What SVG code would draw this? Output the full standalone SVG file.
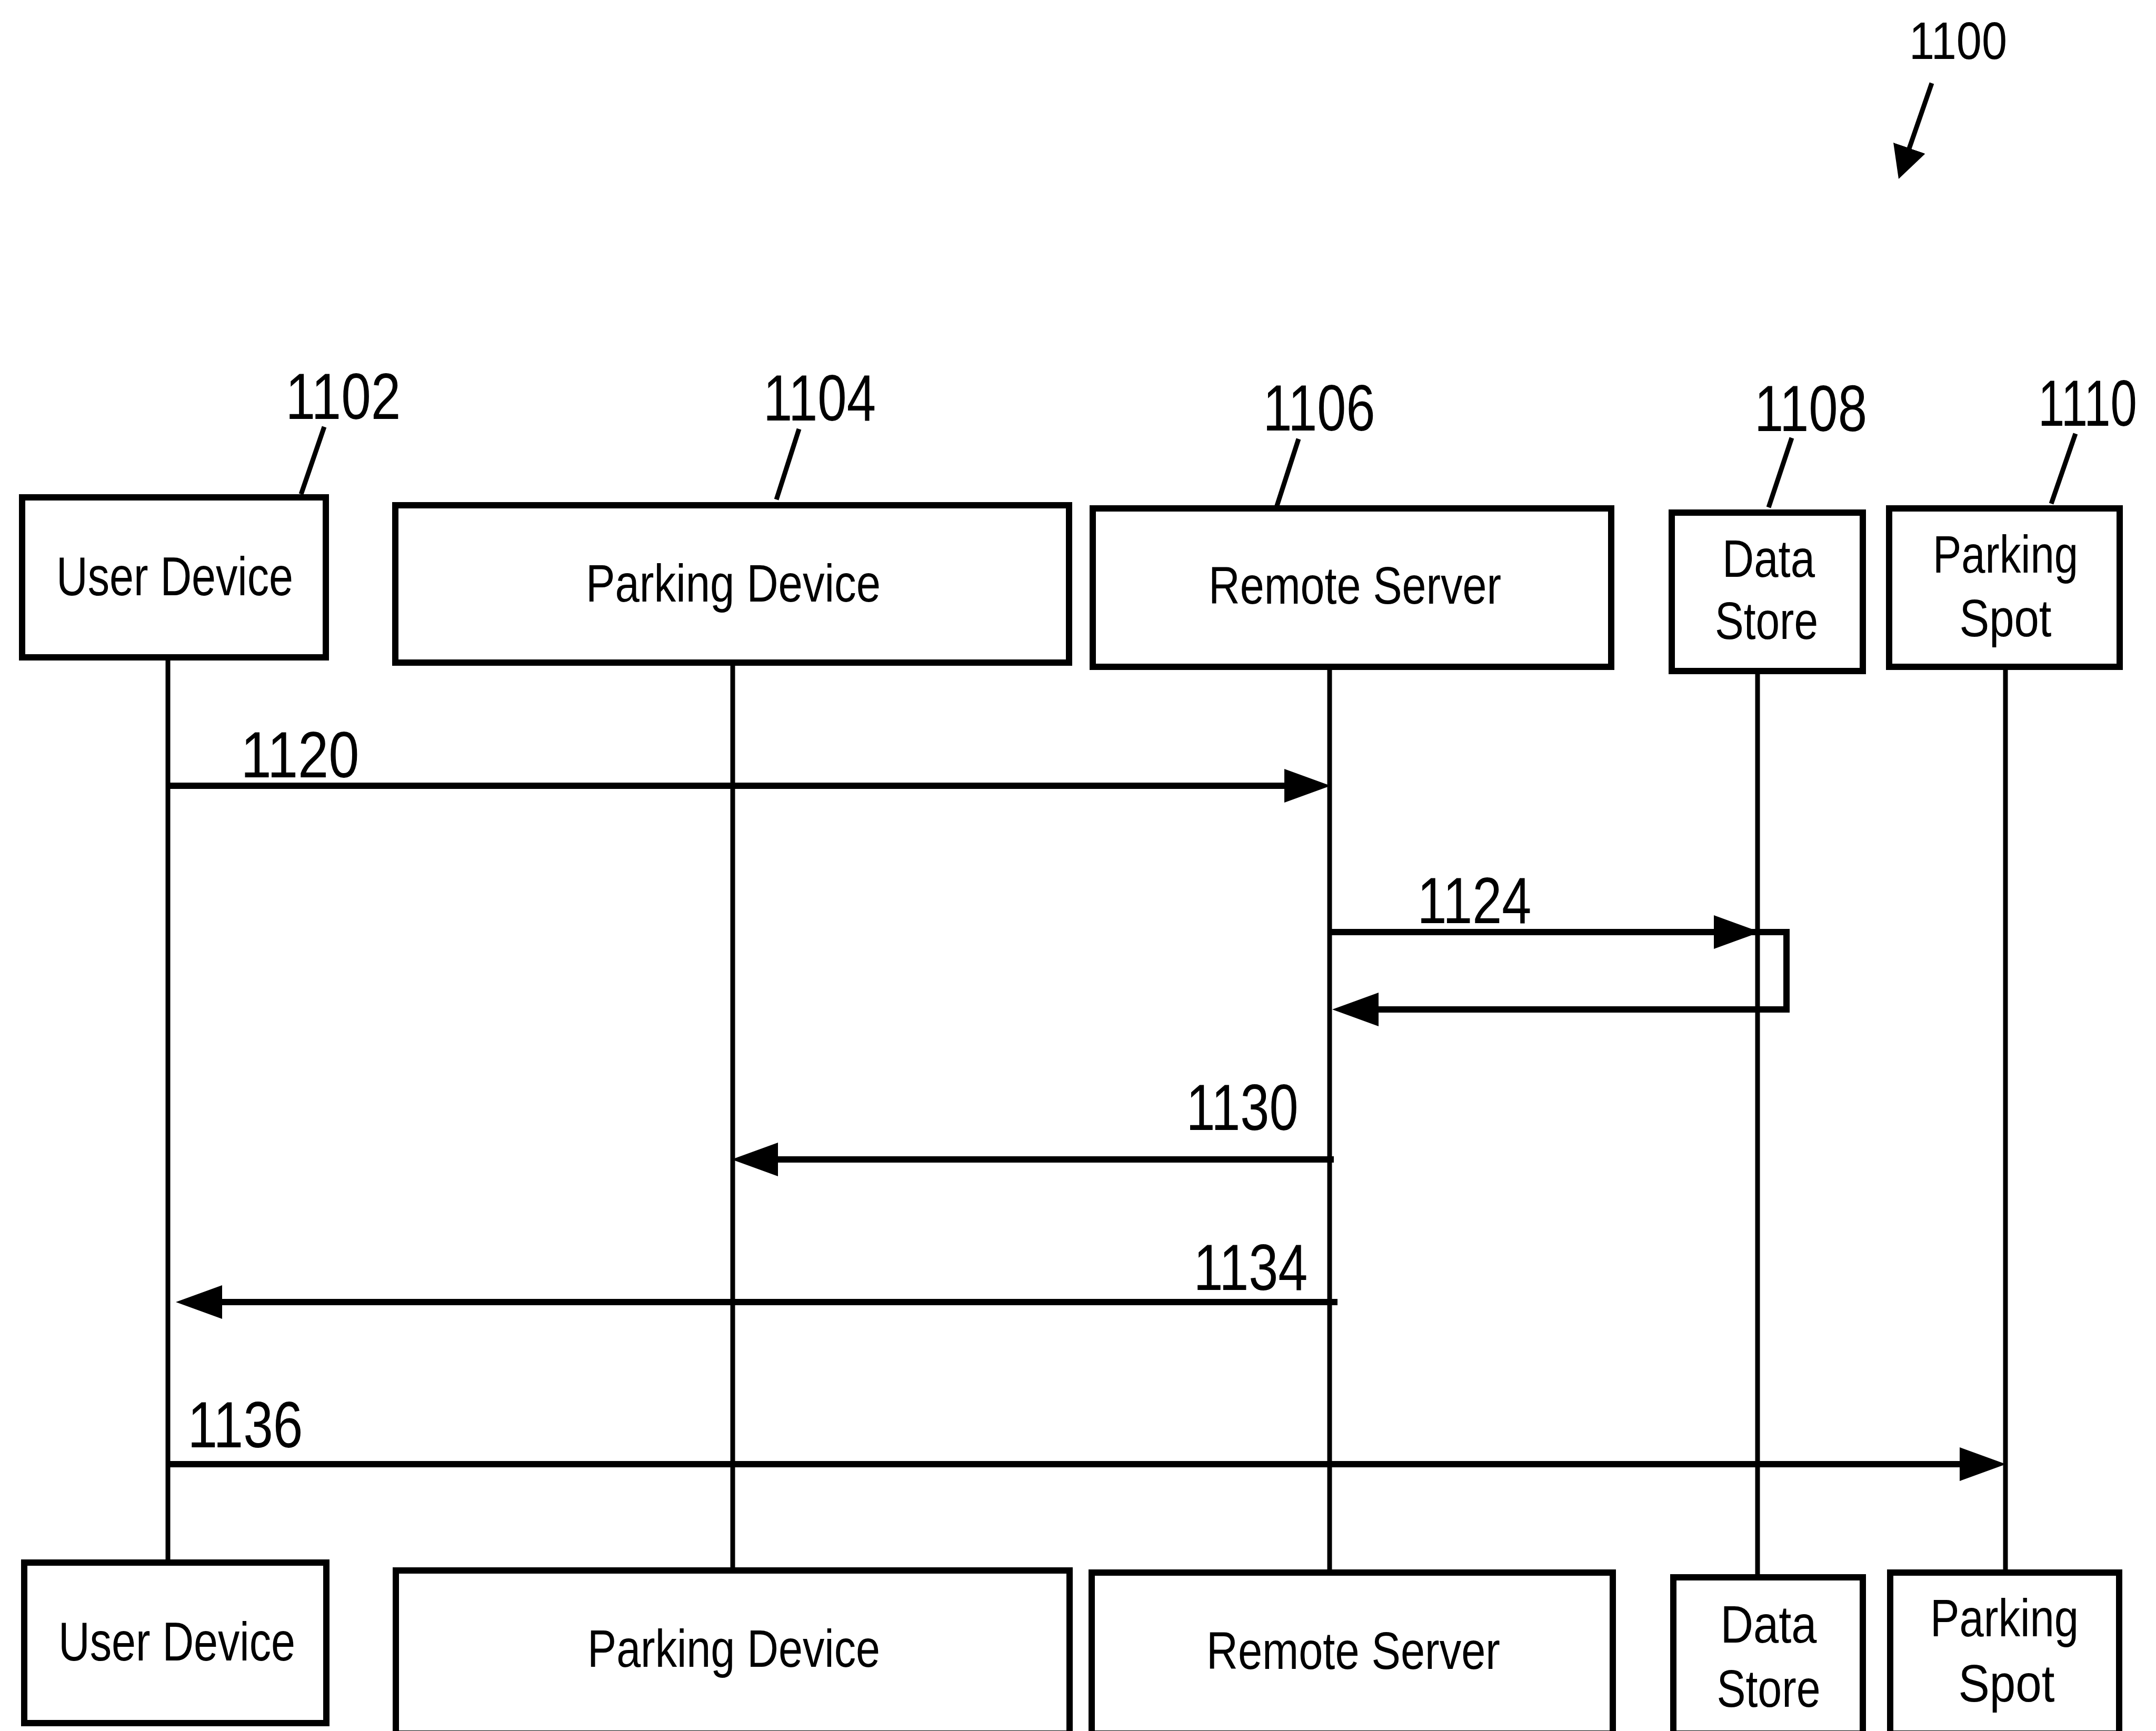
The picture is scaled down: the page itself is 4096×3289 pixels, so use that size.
<svg xmlns="http://www.w3.org/2000/svg" width="4096" height="3289" viewBox="0 0 4096 3289">
<style>
.box{fill:#fff;stroke:#000;stroke-width:12}
.life{stroke:#000;stroke-width:9;fill:none}
.msg{stroke:#000;stroke-width:12;fill:none;stroke-linejoin:miter}
.lead{stroke:#000;stroke-width:9;fill:none}
.lbl{font-family:"Liberation Sans",Arial,sans-serif;font-size:100px;fill:#000;text-anchor:middle}
.num{font-family:"Liberation Sans",Arial,sans-serif;font-size:124px;fill:#000;text-anchor:middle}
</style>
<defs>
<marker id="ah" markerUnits="userSpaceOnUse" markerWidth="88" markerHeight="64" refX="68" refY="32" orient="auto" viewBox="0 0 88 64">
<path d="M0,0 L88,32 L0,64 z" fill="#000"/>
</marker>
<marker id="ahs" markerUnits="userSpaceOnUse" markerWidth="62" markerHeight="64" refX="48" refY="32" orient="auto" viewBox="0 0 62 64">
<path d="M0,0 L62,32 L0,64 z" fill="#000"/>
</marker>
</defs>
<rect width="4096" height="3289" fill="#fff"/>

<g id="fig-ref">
<text class="num" x="3720" y="112" style="font-size:101px" textLength="186" lengthAdjust="spacingAndGlyphs">1100</text>
<line class="lead" x1="3670" y1="158" x2="3611.6" y2="326.8" marker-end="url(#ahs)" stroke-width="10"/>
</g>

<g id="lifelines">
<line class="life" x1="319" y1="1254" x2="319" y2="2964"/>
<line class="life" x1="1392" y1="1264" x2="1392" y2="2979"/>
<line class="life" x1="2526" y1="1272" x2="2526" y2="2983"/>
<line class="life" x1="3339" y1="1280" x2="3339" y2="2992"/>
<line class="life" x1="3810" y1="1272" x2="3810" y2="2983"/>
</g>

<g id="node-user-device">
<rect class="box" x="42" y="945" width="577" height="304"/>
<text class="lbl" x="332" y="1131" textLength="450" lengthAdjust="spacingAndGlyphs" style="font-size:103px">User Device</text>
<line class="lead" x1="616" y1="811" x2="572" y2="939"/>
<text class="num" x="652" y="796" textLength="219" lengthAdjust="spacingAndGlyphs">1102</text>
</g>

<g id="node-parking-device">
<rect class="box" x="751" y="960" width="1280" height="299"/>
<text class="lbl" x="1393" y="1143" textLength="560" lengthAdjust="spacingAndGlyphs">Parking Device</text>
<line class="lead" x1="1518" y1="815" x2="1475" y2="949"/>
<text class="num" x="1557" y="799" textLength="214" lengthAdjust="spacingAndGlyphs">1104</text>
</g>

<g id="node-remote-server">
<rect class="box" x="2076" y="966" width="985" height="301"/>
<text class="lbl" x="2574" y="1147" textLength="556" lengthAdjust="spacingAndGlyphs">Remote Server</text>
<line class="lead" x1="2467" y1="834" x2="2424" y2="967"/>
<text class="num" x="2506" y="818" textLength="213" lengthAdjust="spacingAndGlyphs">1106</text>
</g>

<g id="node-data-store">
<rect class="box" x="3176" y="974" width="363" height="301"/>
<text class="lbl" x="3360" y="1096" textLength="176" lengthAdjust="spacingAndGlyphs">Data</text>
<text class="lbl" x="3356" y="1214" textLength="196" lengthAdjust="spacingAndGlyphs">Store</text>
<line class="lead" x1="3404" y1="832" x2="3360" y2="964"/>
<text class="num" x="3440" y="819" textLength="214" lengthAdjust="spacingAndGlyphs">1108</text>
</g>

<g id="node-parking-spot">
<rect class="box" x="3589" y="966" width="438" height="301"/>
<text class="lbl" x="3810" y="1088" textLength="276" lengthAdjust="spacingAndGlyphs">Parking</text>
<text class="lbl" x="3810" y="1209" textLength="175" lengthAdjust="spacingAndGlyphs">Spot</text>
<line class="lead" x1="3943" y1="824" x2="3897" y2="957"/>
<text class="num" transform="translate(3966,809) scale(0.73,1)" x="0" y="0">1110</text>
</g>

<g id="node-user-device-bottom">
<rect class="box" x="46" y="2969" width="574" height="305"/>
<text class="lbl" x="336" y="3155" textLength="450" lengthAdjust="spacingAndGlyphs" style="font-size:103px">User Device</text>
</g>
<g id="node-parking-device-bottom">
<rect class="box" x="752" y="2984" width="1280" height="310"/>
<text class="lbl" x="1394" y="3167" textLength="556" lengthAdjust="spacingAndGlyphs">Parking Device</text>
</g>
<g id="node-remote-server-bottom">
<rect class="box" x="2074" y="2988" width="990" height="306"/>
<text class="lbl" x="2571" y="3171" textLength="558" lengthAdjust="spacingAndGlyphs">Remote Server</text>
</g>
<g id="node-data-store-bottom">
<rect class="box" x="3179" y="2997" width="360" height="297"/>
<text class="lbl" x="3360" y="3121" textLength="183" lengthAdjust="spacingAndGlyphs">Data</text>
<text class="lbl" x="3360" y="3243" textLength="197" lengthAdjust="spacingAndGlyphs">Store</text>
</g>
<g id="node-parking-spot-bottom">
<rect class="box" x="3591" y="2988" width="435" height="306"/>
<text class="lbl" x="3808" y="3109" textLength="282" lengthAdjust="spacingAndGlyphs">Parking</text>
<text class="lbl" x="3812" y="3233" textLength="183" lengthAdjust="spacingAndGlyphs">Spot</text>
</g>

<g id="connectors">
<line class="msg" x1="319" y1="1493" x2="2508" y2="1493" marker-end="url(#ah)"/>
<line class="msg" x1="2526" y1="1771" x2="3324" y2="1771" marker-end="url(#ah)"/>
<path class="msg" d="M3320,1771 H3394 V1918 H2551" marker-end="url(#ah)"/>
<line class="msg" x1="2534" y1="2203" x2="1410" y2="2203" marker-end="url(#ah)"/>
<line class="msg" x1="2541" y1="2474" x2="354" y2="2474" marker-end="url(#ah)"/>
<line class="msg" x1="317" y1="2782" x2="3791" y2="2782" marker-end="url(#ah)"/>
</g>

<g id="connector-labels">
<text class="num" x="570" y="1477" textLength="225" lengthAdjust="spacingAndGlyphs">1120</text>
<text class="num" x="2801" y="1754" textLength="217" lengthAdjust="spacingAndGlyphs">1124</text>
<text class="num" x="2360" y="2147" textLength="213" lengthAdjust="spacingAndGlyphs">1130</text>
<text class="num" x="2376" y="2451" textLength="217" lengthAdjust="spacingAndGlyphs">1134</text>
<text class="num" x="466" y="2750" textLength="219" lengthAdjust="spacingAndGlyphs">1136</text>
</g>
</svg>
